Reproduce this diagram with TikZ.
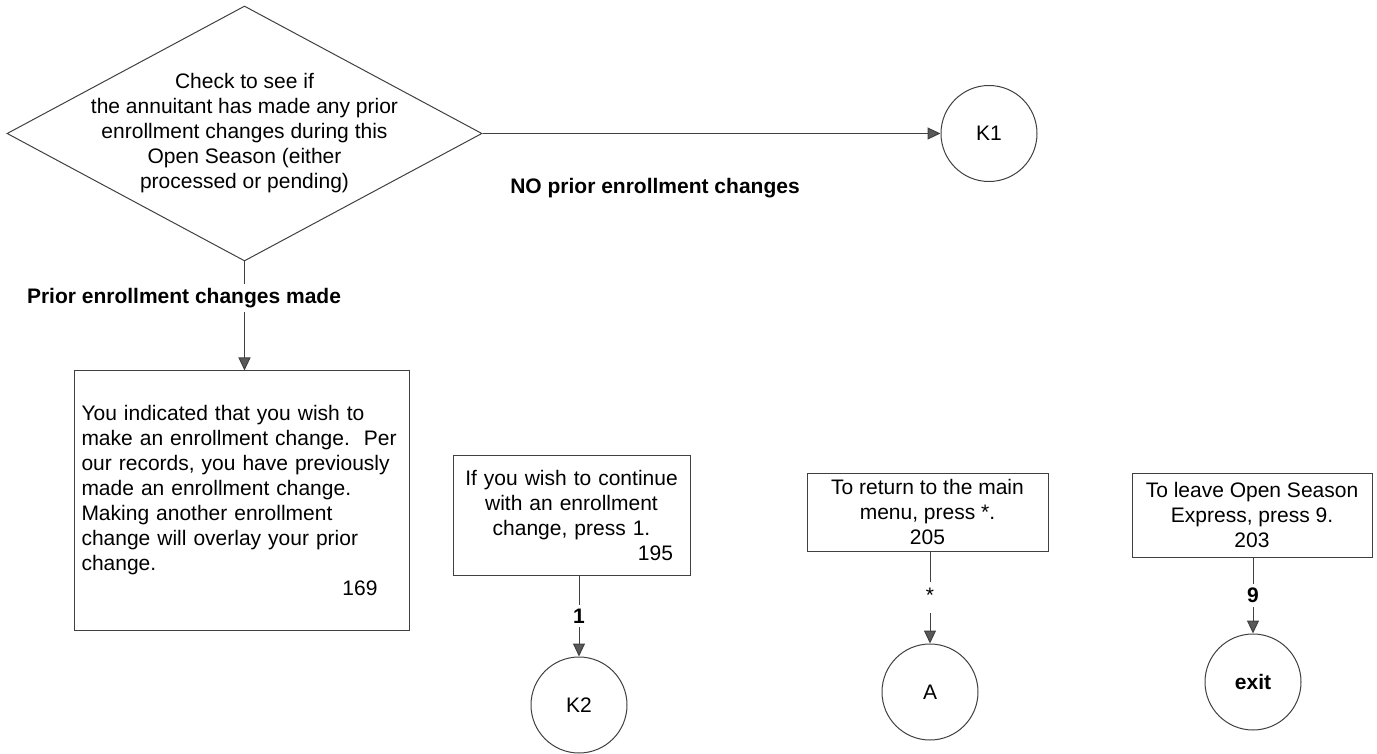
\documentclass[tikz,border=0pt]{standalone}
\usepackage{fontspec}
\setmainfont{Liberation Sans}
\usetikzlibrary{shapes.geometric,arrows.meta}

\begin{document}
\begin{tikzpicture}[x=0.5pt,y=-0.5pt,
  font=\fontsize{10.5pt}{12.5pt}\selectfont,
  line width=0.5pt,
  arr/.style={draw=black!75,-{Triangle[width=6pt,length=6.5pt,fill=black!65]}},
  blk/.style={draw=black!75,rectangle,inner sep=0pt},
  conn/.style={draw=black!75,circle,minimum size=48pt,inner sep=0pt},
  lbl/.style={font=\fontsize{10.5pt}{12.5pt}\selectfont\bfseries,inner sep=2pt}]

\useasboundingbox (0,0) rectangle (1377,754);

\begin{scope}
% decision
\node[diamond,draw=black!75,minimum width=237.5pt,minimum height=127.5pt,inner sep=0pt] (chk) at (244.5,133.5) {};
\node[align=center] (chktxt) at (chk.center) {Check to see if\\the annuitant has made any prior\\enrollment changes during this\\Open Season (either\\processed or pending)};

\node[conn] (k1) at (989,133.5) {K1};
\draw[arr] (chk.east) -- (k1);
\node[lbl] (nolbl) at (655,188) {NO prior enrollment changes};

% prior changes made
\node[blk,minimum width=167.5pt,minimum height=129.5pt] (box169) at (241.5,500.5) {};
\node[text width=160pt,align=left] (txt169) at (box169.center) {You indicated that you wish to\\make an enrollment change.~~Per\\our records, you have previously\\made an enrollment change.\\Making another enrollment\\change will overlay your prior\\change.\\\mbox{}\hfill 169\hspace*{12pt}\mbox{}};
\draw[arr] (chk.south) -- (chk.south |- box169.north);
\node[lbl,fill=white] (yeslbl) at (184,298) {Prior enrollment changes made};
\end{scope}

\begin{scope}
% menu options
\node[blk,minimum width=118.5pt,minimum height=60pt] (box195) at (571.5,515) {};
\node[text width=112.5pt,align=center] (txt195) at (box195.center) {If you wish to continue\\with an enrollment\\change, press 1.\\\mbox{}\hfill 195\hspace*{5.5pt}\mbox{}};
\node[conn] (k2) at (579,705) {K2};
\draw[arr] (k2 |- box195.south) -- node[lbl,fill=white] (one) {1} (k2);

\node[blk,minimum width=120.5pt,minimum height=39pt,align=center] (box205) at (927.5,512) {To return to the main\\menu, press *.\\205};
\node[conn] (a) at (930,692) {A};
\draw[arr] (a |- box205.south) -- node[fill=white,inner sep=2pt,text height=1.6ex,text depth=0.6ex] (star) {*} (a);

\node[blk,minimum width=120pt,minimum height=42pt,align=center] (box203) at (1252,515) {To leave Open Season\\Express, press 9.\\203};
\node[conn,font=\fontsize{10.5pt}{12.5pt}\selectfont\bfseries] (exit) at (1253,682) {exit};
\draw[arr] (exit |- box203.south) -- node[lbl,fill=white] (nine) {9} (exit);
\end{scope}

\end{tikzpicture}
\end{document}
